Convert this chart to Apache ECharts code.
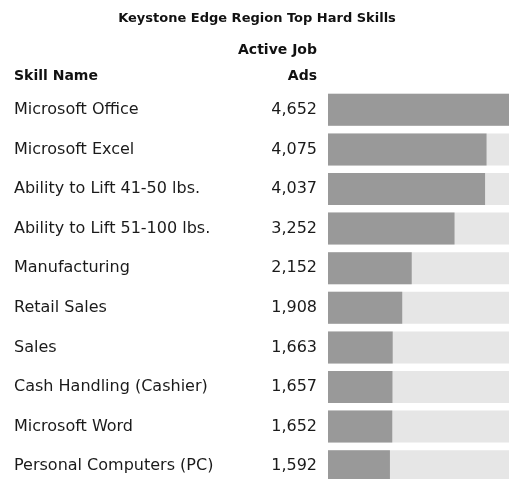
<!DOCTYPE html>
<html>
<head>
<meta charset="utf-8">
<script src="https://cdn.jsdelivr.net/npm/echarts@6/dist/echarts.min.js"></script>
<style>
  html, body { margin: 0; padding: 0; background: #fff; overflow: hidden; }
  #main { width: 513px; height: 492px; }
</style>
</head>
<body>
<div id="main"></div>
<script>
// data
var skills = ['Microsoft Office', 'Microsoft Excel', 'Ability to Lift 41-50 lbs.', 'Ability to Lift 51-100 lbs.',
  'Manufacturing', 'Retail Sales', 'Sales', 'Cash Handling (Cashier)', 'Microsoft Word', 'Personal Computers (PC)']
var jobAds = [4652, 4075, 4037, 3252, 2152, 1908, 1663, 1657, 1652, 1592]

var font = 'DejaVu Sans'
var chart = echarts.init(document.getElementById('main'))

function headText(x, y, txt, align, size) {
  return {
    type: 'text', x: x, y: y,
    style: { text: txt, font: 'bold ' + size + 'px "' + font + '"', fill: '#111', align: align, verticalAlign: 'middle' }
  }
}

var option = {
  animation: false,
  graphic: [
    headText(257, 19, 'Keystone Edge Region Top Hard Skills', 'center', 13),
    headText(14, 76, 'Skill Name', 'left', 14),
    headText(317, 50, 'Active Job', 'right', 14),
    headText(317, 76, 'Ads', 'right', 14)
  ],
  grid: { left: 328, right: 4, top: 90, height: 396 },
  xAxis: { type: 'value', min: 0, max: 'dataMax', show: false },
  yAxis: {
    type: 'category',
    inverse: true,
    data: skills,
    axisLine: { show: false },
    axisTick: { show: false },
    axisLabel: {
      align: 'left',
      margin: 314,
      fontFamily: font,
      fontSize: 16,
      color: '#1a1a1a'
    }
  },
  series: [{
    type: 'bar',
    data: jobAds,
    barWidth: 32,
    itemStyle: { color: '#999999' },
    showBackground: true,
    backgroundStyle: { color: '#e6e6e6' },
    label: {
      show: true,
      position: 'left',
      distance: 11,
      fontFamily: font,
      fontSize: 16,
      color: '#1a1a1a',
      formatter: function (p) { return p.value.toLocaleString('en-US') }
    }
  }]
}

chart.setOption(option)
</script>
</body>
</html>
